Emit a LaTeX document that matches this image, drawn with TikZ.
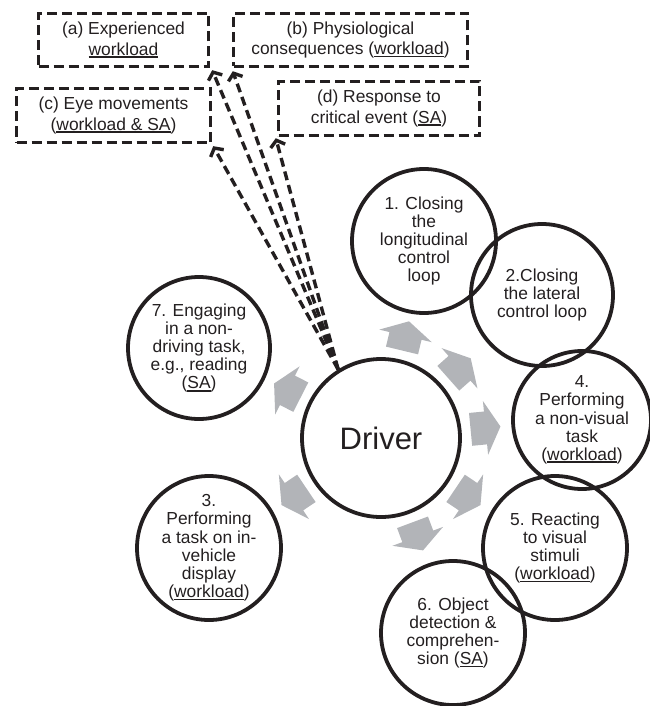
\documentclass[tikz,border=0pt]{standalone}
\usepackage{fontspec}
\setmainfont{Liberation Sans}
\usetikzlibrary{arrows.meta,calc}
\definecolor{ink}{HTML}{231F20}
\definecolor{arrgray}{RGB}{178,180,184}
\newcommand\ulw[1]{\setbox0\hbox{#1}\rlap{\rule[-2.6pt]{\wd0}{1.8pt}}\box0}
\begin{document}
\begin{tikzpicture}[x=1pt,y=1pt,
  circ/.style={circle, draw=ink, line width=3.8pt, inner sep=0pt, align=center, text=ink, font=\fontsize{17.4}{18.2}\selectfont},
  dbox/.style={draw=ink, line width=3.4pt, dash pattern=on 10pt off 5pt, align=center, text=ink, inner sep=0pt, font=\fontsize{17.4}{20.7}\selectfont},
  darr/.style={draw=ink, line width=3.4pt, dash pattern=on 9pt off 5pt, -{Straight Barb[length=6pt,width=15pt]}},
  garrow/.style={fill=arrgray}]
\useasboundingbox (0,0) rectangle (649,-706);
% dashed boxes
\node[dbox, minimum width=170, minimum height=53] (a) at (123.5,-40) {(a) Experienced\\\ulw{workload}};
\node[dbox, minimum width=234, minimum height=53] (b) at (350.5,-40) {(b) Physiological\\consequences (\ulw{workload})};
\node[dbox, minimum width=194, minimum height=54] (c) at (113.5,-115.5) {(c) Eye movements\\(\ulw{workload \& SA})};
\node[dbox, minimum width=201, minimum height=54] (d) at (379,-108.5) {(d) Response to\\critical event (\ulw{SA})};
% circles
\node[circ, minimum size=158, font=\fontsize{31}{34}\selectfont] (drv) at (381,-438) {Driver};
\node[circ, minimum size=144] (c1) at (424,-241) {1. Closing\\the\\longitudinal\\control\\loop};
\node[circ, minimum size=142] (c2) at (542,-295) {2.Closing\\the lateral\\control loop};
\node[circ, minimum size=138] (c4) at (582,-420) {4.\\Performing\\a non-visual\\task\\(\ulw{workload})};
\node[circ, minimum size=144] (c5) at (555,-548) {5. Reacting\\to visual\\stimuli\\(\ulw{workload})};
\node[circ, minimum size=144] (c6) at (453,-633) {6. Object\\detection \&\\comprehen-\\sion (\ulw{SA})};
\node[circ, minimum size=144] (c3) at (209,-548) {3.\\Performing\\a task on in-\\vehicle\\display\\(\ulw{workload})};
\node[circ, minimum size=142] (c7) at (199,-348) {7. Engaging\\in a non-\\driving task,\\e.g., reading\\(\ulw{SA})};
% gray block arrows around the driver
\foreach \ang in {76.5,41.6,5.5,-34,-69.5,-146,153} {
  \fill[garrow, shift={(drv.center)}, rotate=\ang]
    (90,-16.5) -- (105,-16.5) -- (105,-27) -- (120,0) -- (105,27) -- (105,16.5) -- (90,16.5) -- cycle;
}
% dashed arrows
\coordinate (src) at (drv.122);
\coordinate (ta) at ($(a.south east)+(2,-2)$);
\coordinate (tb) at ($(b.south west)+(1,-3)$);
\coordinate (tc) at ($(c.south east)+(1,-2)$);
\coordinate (td) at ($(d.south west)+(-1,-1)$);
\draw[darr] (src) -- (ta);
\draw[darr] (src) -- (tb);
\draw[darr] (src) -- (tc);
\draw[darr] (src) -- (td);
\end{tikzpicture}
\end{document}
